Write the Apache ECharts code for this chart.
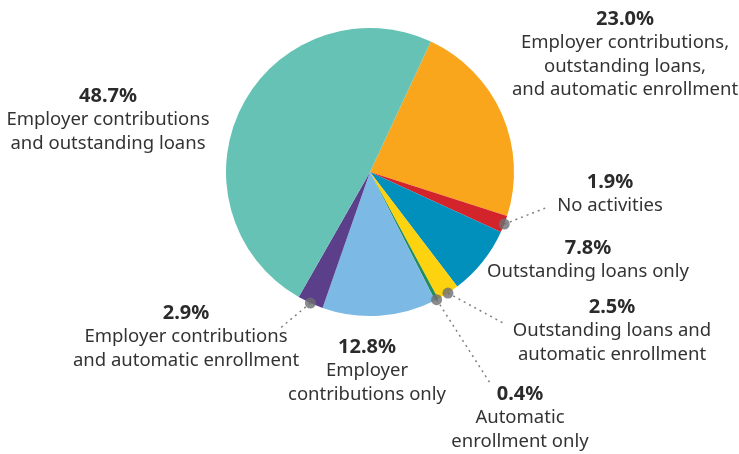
<!DOCTYPE html>
<html><head><meta charset="utf-8">
<script src="https://cdn.jsdelivr.net/npm/echarts@6/dist/echarts.min.js"></script>
<style>html,body{margin:0;padding:0;background:#fff}#c{width:739px;height:454px}</style>
</head><body><div id="c"></div>
<script>
// Data (clockwise from the orange slice)
const categories = [
  'Employer contributions,\noutstanding loans,\nand automatic enrollment',
  'No activities',
  'Outstanding loans only',
  'Outstanding loans and\nautomatic enrollment',
  'Automatic\nenrollment only',
  'Employer\ncontributions only',
  'Employer contributions\nand automatic enrollment',
  'Employer contributions\nand outstanding loans'
];
const values = [23.0, 1.9, 7.8, 2.5, 0.4, 12.8, 2.9, 48.7];
const hasLeader = [false, true, false, true, true, false, true, false];

// Styles / layout
const colors = ['#f9a61c', '#d3242b', '#0090bb', '#fdd20e', '#238b5c', '#7cb9e4', '#5b3f8a', '#66c2b5'];
const labelPos = [[625, 7], [610, 170], [588, 236], [612, 295], [520, 382], [367, 335], [186, 301], [108, 84]];
const leaderEnd = [null, [548, 207], null, [503, 323], [490, 383], null, [278, 330], null];
const CX = 370, CY = 172, R = 144, START = 65;

// Dots at slice mid-angles for slices with leader lines
const dots = [];
let cum = 0;
values.forEach((v, i) => {
  if (hasLeader[i]) dots.push([1, cum + v / 2]);
  cum += v;
});

const chart = echarts.init(document.getElementById('c'));
chart.setOption({
  animation: false,
  polar: { center: [CX, CY], radius: R },
  angleAxis: { type: 'value', min: 0, max: 100, startAngle: START, clockwise: true, show: false },
  radiusAxis: { type: 'value', min: 0, max: 1, show: false },
  series: [
    {
      type: 'pie',
      center: [CX, CY],
      radius: R,
      startAngle: START,
      clockwise: true,
      avoidLabelOverlap: false,
      itemStyle: { borderWidth: 0 },
      data: values.map((v, i) => ({
        value: v,
        name: categories[i],
        itemStyle: { color: colors[i] },
        labelLine: { show: hasLeader[i] }
      })),
      label: {
        show: true,
        position: 'outside',
        align: 'center',
        color: '#333',
        fontFamily: 'Noto Sans',
        fontSize: 18.5,
        lineHeight: 23.5,
        formatter: p => '{p|' + p.value.toFixed(1) + '%}\n' + p.name,
        rich: { p: { fontWeight: 'bold', fontSize: 20, lineHeight: 24, color: '#2b2b2b', fontFamily: 'Noto Sans' } }
      },
      labelLine: {
        show: true,
        lineStyle: { color: '#808080', width: 1.5, type: [2, 4] }
      },
      labelLayout: function (params) {
        const i = params.dataIndex;
        const out = { x: labelPos[i][0], y: labelPos[i][1], align: 'center', verticalAlign: 'top' };
        if (hasLeader[i] && params.labelLinePoints) {
          const s = params.labelLinePoints[0];
          const e = leaderEnd[i];
          out.labelLinePoints = [s, [(s[0] + e[0]) / 2, (s[1] + e[1]) / 2], e];
        }
        return out;
      },
      emphasis: { disabled: true }
    },
    {
      type: 'scatter',
      coordinateSystem: 'polar',
      data: dots,
      symbol: 'circle',
      symbolSize: 11,
      itemStyle: { color: '#6d6e71' },
      z: 5,
      silent: true
    }
  ]
});
</script></body></html>
